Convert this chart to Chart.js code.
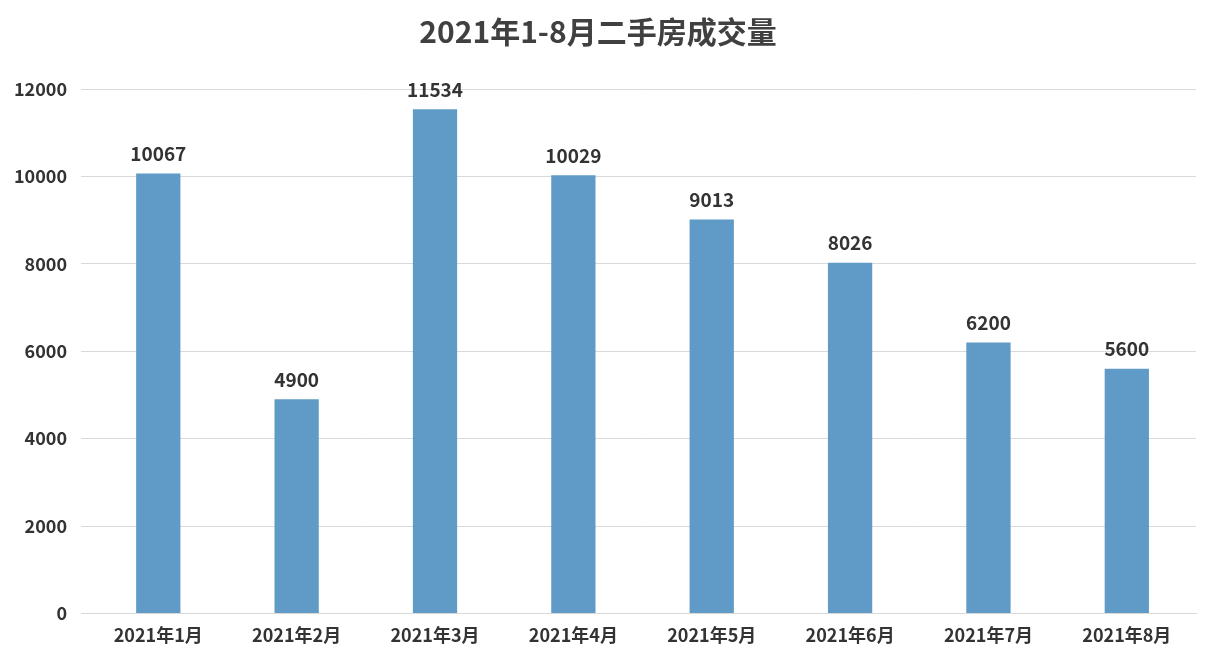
<!DOCTYPE html>
<html><head><meta charset="utf-8">
<script src="https://cdn.jsdelivr.net/npm/chart.js@4"></script>
<style>html,body{margin:0;background:#fff}#w{width:1206px;height:658px}</style>
</head><body><div id="w"><canvas id="c"></canvas></div>
<script>
const categories=["2021年1月","2021年2月","2021年3月","2021年4月","2021年5月","2021年6月","2021年7月","2021年8月"];
const values=[10067,4900,11534,10029,9013,8026,6200,5600];
const yTicks=[0,2000,4000,6000,8000,10000,12000];
const font="'Noto Sans CJK SC','Liberation Sans',sans-serif";
const labels={id:'lbl',afterDatasetsDraw(ch){const c=ch.ctx;const m=ch.getDatasetMeta(0);c.save();c.font="bold 19px "+font;c.fillStyle="#333";c.textAlign="center";c.textBaseline="bottom";m.data.forEach((b,i)=>c.fillText(values[i],b.x,b.y-10));c.restore();}};
new Chart(document.getElementById('c'),{type:'bar',data:{labels:categories,datasets:[{data:values,backgroundColor:'#5f9bc6',barPercentage:0.32,categoryPercentage:1}]},
options:{responsive:true,maintainAspectRatio:false,animation:false,
layout:{padding:{left:0,right:10,top:0,bottom:9}},
plugins:{legend:{display:false},tooltip:{enabled:false},title:{display:true,text:'2021年1-8月二手房成交量',color:'#404040',font:{family:font,size:30,weight:'bold'},padding:{top:14,bottom:39}}},
scales:{x:{grid:{display:false},border:{color:'#d9d9d9'},ticks:{color:'#333',font:{family:font,size:18,weight:'bold'}}},
y:{min:0,max:12000,afterBuildTicks(a){a.ticks=yTicks.map(v=>({value:v}));},grid:{color:'#d9d9d9'},border:{display:false},ticks:{color:'#333',padding:14,callback:v=>String(v),font:{family:font,size:18,weight:'bold'}}}}},
plugins:[labels]});
</script></body></html>
